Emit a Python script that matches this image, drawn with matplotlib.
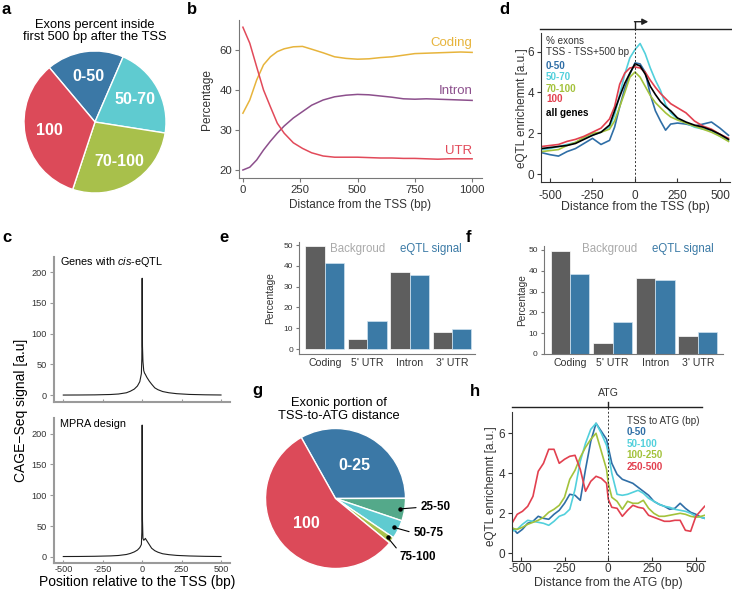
import numpy as np
import matplotlib
matplotlib.use("Agg")
import matplotlib.pyplot as plt

plt.rcParams['font.family'] = ['Liberation Sans', 'DejaVu Sans']
plt.rcParams['axes.unicode_minus'] = False
plt.rcParams['mathtext.fontset'] = 'custom'
plt.rcParams['mathtext.rm'] = 'Liberation Sans'
plt.rcParams['mathtext.it'] = 'Liberation Sans:italic'

W, H = 732, 591

# ---------------- data ----------------
# a: exons percent inside first 500 bp
a_labels = ["0-50", "50-70", "70-100", "100"]
a_values = [17.6, 21.0, 27.6, 33.8]

# b: genomic composition vs distance from TSS (axis units)
b_x = [0, 30, 60, 90, 120, 150, 180, 220, 260, 300, 350, 400, 450, 500,
       550, 600, 650, 700, 750, 800, 850, 900, 950, 1000]
b_coding = [34.2, 37.5, 42.5, 46.3, 48.3, 49.6, 50.3, 50.8, 50.9, 50.2, 49.3, 48.3,
            47.9, 47.7, 47.8, 48.1, 48.3, 48.7, 49.1, 49.2, 49.3, 49.4, 49.5, 49.4]
b_intron = [20.0, 20.7, 22.5, 25.0, 27.2, 29.2, 31.0, 33.0, 34.6, 36.2, 37.5, 38.3,
            38.7, 38.9, 38.8, 38.5, 38.2, 37.8, 37.7, 37.8, 37.7, 37.6, 37.5, 37.4]
b_utr = [55.7, 51.7, 45.8, 40.0, 35.8, 31.7, 29.2, 26.8, 25.4, 24.3, 23.5, 23.2,
         23.2, 23.2, 23.1, 23.0, 23.0, 22.9, 22.9, 22.8, 22.7, 22.8, 22.8, 22.8]
b_yticks = [20, 30, 40, 50]
b_yticklabels = ["20", "30", "40", "60"]

# c: CAGE-seq signal
c_x = [-500, -400, -300, -200, -150, -100, -75, -50, -30, -15, -5, -2, 0, 2, 5, 10,
       15, 20, 30, 45, 60, 80, 100, 130, 170, 220, 300, 400, 500]
c_eqtl = [0.3, 0.4, 0.6, 1.2, 2, 4, 6.5, 10, 15, 22, 35, 60, 190, 80, 55, 40,
          36, 34, 29, 23, 18, 12, 9, 6, 4, 2.5, 1.3, 0.7, 0.4]
c_mpra = [0.5, 0.6, 0.9, 1.5, 2.2, 3.8, 5.5, 8, 11, 15, 20, 40, 214, 60, 30, 27,
          28, 30, 26, 20, 14, 10, 7.5, 5, 3.5, 2.3, 1.4, 0.8, 0.5]

# d: eQTL enrichment around TSS by exon percentage
d_x = [-550, -500, -450, -400, -350, -300, -250, -200, -150, -120, -90, -60, -30, 0,
       30, 60, 90, 120, 150, 180, 210, 250, 300, 350, 400, 450, 500, 550]
d_0_50 = [1.05, 0.95, 0.88, 1.1, 1.25, 1.5, 1.75, 1.45, 1.65, 2.3, 3.3, 4.2, 4.9, 5.45,
          5.4, 5.0, 3.9, 3.1, 2.6, 2.15, 2.45, 2.5, 2.45, 2.35, 2.45, 2.55, 2.25, 1.9]
d_50_70 = [1.2, 1.25, 1.35, 1.45, 1.55, 1.75, 1.9, 2.05, 2.3, 2.9, 3.9, 4.9, 5.7, 6.1,
           6.4, 5.9, 5.2, 4.6, 4.1, 3.4, 3.0, 2.7, 2.5, 2.3, 2.2, 2.15, 1.85, 1.65]
d_70_100 = [1.1, 1.15, 1.2, 1.4, 1.55, 1.8, 2.0, 2.05, 2.2, 2.6, 3.3, 4.0, 4.75, 5.0,
            4.75, 4.3, 3.85, 3.5, 3.25, 3.0, 2.8, 2.65, 2.5, 2.35, 2.2, 2.05, 1.85, 1.6]
d_100 = [1.35, 1.4, 1.45, 1.6, 1.7, 1.85, 2.05, 2.25, 2.7, 3.3, 4.4, 4.95, 5.2, 5.25,
         5.2, 5.0, 4.6, 4.25, 3.95, 3.7, 3.45, 3.25, 3.0, 2.6, 2.35, 2.2, 1.95, 1.75]
d_all = [1.25, 1.3, 1.35, 1.4, 1.5, 1.7, 1.9, 2.05, 2.4, 3.1, 3.8, 4.45, 4.95, 5.4,
         5.3, 4.9, 4.3, 3.9, 3.55, 3.3, 3.1, 2.75, 2.55, 2.4, 2.3, 2.15, 1.95, 1.7]

# e, f: bar charts
regions = ["Coding", "5' UTR", "Intron", "3' UTR"]
e_background = [49.5, 4.8, 36.9, 8.2]
e_signal = [41.5, 13.5, 35.6, 9.5]
f_background = [49.5, 5.1, 36.7, 8.5]
f_signal = [38.3, 15.5, 35.4, 10.6]

# g: exonic portion of TSS-to-ATG distance
g_labels = ["0-25", "25-50", "50-75", "75-100", "100"]
g_values = [33.1, 5.2, 4.3, 1.5, 55.9]

# h: eQTL enrichment around ATG by TSS-to-ATG distance
h_x = [-550, -520, -490, -460, -430, -400, -370, -340, -310, -280, -250, -220, -190,
       -160, -130, -100, -70, -40, -10, 0, 20, 50, 80, 110, 140, 170, 200, 230, 260,
       290, 320, 350, 380, 410, 440, 470, 500, 530, 550]
h_0_50 = [1.3, 1.0, 1.2, 1.5, 1.6, 1.85, 1.75, 1.7, 1.95, 2.15, 2.5, 2.95, 2.9, 2.65,
          4.2, 5.6, 6.5, 6.1, 5.7, 5.3, 4.5, 3.95, 3.7, 3.6, 3.5, 3.3, 3.1, 2.9, 2.6,
          2.45, 2.35, 2.2, 2.25, 2.5, 2.25, 2.05, 1.95, 1.8, 1.75]
h_50_100 = [1.1, 1.2, 1.45, 1.65, 1.6, 1.55, 1.5, 1.4, 1.6, 1.85, 1.95, 2.2, 3.2, 4.6,
            5.5, 6.2, 6.5, 6.0, 5.4, 5.0, 4.0, 2.95, 2.9, 2.95, 3.05, 3.15, 3.0, 2.75,
            2.6, 2.45, 2.35, 2.3, 2.2, 2.15, 2.1, 2.0, 1.85, 1.8, 1.75]
h_100_250 = [1.25, 1.2, 1.3, 1.45, 1.55, 1.65, 1.8, 2.05, 2.2, 2.4, 2.8, 3.7, 4.15,
             4.8, 5.3, 5.7, 6.0, 5.1, 4.2, 3.5, 2.8, 2.6, 2.2, 2.6, 2.5, 2.5, 2.65,
             2.25, 2.0, 1.85, 1.85, 1.9, 1.95, 2.0, 1.95, 1.85, 1.8, 1.85, 1.9]
h_250_500 = [1.5, 1.95, 2.1, 2.35, 2.85, 4.1, 4.5, 5.2, 5.2, 4.5, 4.7, 4.85, 4.9, 4.2,
             3.1, 3.6, 3.85, 3.75, 3.5, 2.7, 2.3, 2.25, 1.85, 2.15, 2.4, 2.3, 2.25, 1.9,
             1.8, 1.7, 1.6, 1.6, 1.65, 1.65, 1.15, 1.1, 1.85, 2.15, 2.35]

# ---------------- style ----------------
PIE_BLUE, PIE_CYAN, PIE_GREEN, PIE_RED, PIE_TEAL = '#3b78a6', '#5fcbd0', '#a8c04b', '#dc4a59', '#54a98a'
L_BLUE, L_CYAN, L_GREEN, L_RED = '#2f6ea6', '#52d0dc', '#a3c23b', '#e2404f'
BAR_GRAY, BAR_BLUE = '#5e5e5e', '#3b7aa6'
TXT = '#333333'

fig = plt.figure(figsize=(W / 100, H / 100), dpi=100)


def px_axes(l, t, r, b):
    return fig.add_axes([l / W, 1 - b / H, (r - l) / W, (b - t) / H])


def ftext(x, y, s, **kw):
    fig.text(x / W, 1 - y / H, s, **kw)


def clean(ax, color='#777777', lw=0.8, size=7.3):
    for s in ['top', 'right']:
        ax.spines[s].set_visible(False)
    for s in ['left', 'bottom']:
        ax.spines[s].set_color(color)
        ax.spines[s].set_linewidth(lw)
    ax.tick_params(colors=color, labelcolor=TXT, labelsize=size, length=3, width=0.8, pad=2)


# panel letters
for letter, x, y in [('a', 6, 9), ('b', 192, 9), ('d', 504, 9), ('c', 7, 238),
                     ('e', 224, 238), ('f', 468, 238), ('g', 257, 391), ('h', 475, 391)]:
    ftext(x, y, letter, fontsize=12, fontweight='bold', ha='center', va='center')

# ---- a ----
cx, cy, r = 95, 122, 71
ax = px_axes(cx - 1.25 * r, cy - 1.25 * r, cx + 1.25 * r, cy + 1.25 * r)
wedges, texts = ax.pie(a_values, labels=a_labels, colors=[PIE_BLUE, PIE_CYAN, PIE_GREEN, PIE_RED],
                       startangle=130, counterclock=False, labeldistance=0.65,
                       wedgeprops=dict(edgecolor='white', linewidth=1),
                       textprops=dict(color='white', fontsize=11.5, fontweight='bold'))
for t in texts:
    t.set_ha('center')
    t.set_va('center')
ax.set_xlim(-1.25, 1.25)
ax.set_ylim(-1.25, 1.25)
ftext(95, 31, "Exons percent inside\nfirst 500 bp after the TSS", fontsize=9.3,
      ha='center', va='center', linespacing=1.1)

# ---- b ----
ax = px_axes(239, 20, 482, 178)
ax.plot(b_x, b_coding, color='#e7b43c', lw=1.1)
ax.plot(b_x, b_intron, color='#8c4f8c', lw=1.1)
ax.plot(b_x, b_utr, color='#e24a5a', lw=1.1)
ax.set_xlim(-17, 1043)
ax.set_ylim(18, 57.5)
ax.set_xticks([0, 250, 500, 750, 1000])
ax.set_yticks(b_yticks)
ax.set_yticklabels(b_yticklabels)
clean(ax, size=8.2)
ax.text(1000, 51.8, "Coding", color='#e7b43c', fontsize=9.5, ha='right', va='center')
ax.text(1000, 39.8, "Intron", color='#8c4f8c', fontsize=9.5, ha='right', va='center')
ax.text(1000, 24.8, "UTR", color='#e24a5a', fontsize=9.5, ha='right', va='center')
ax.set_ylabel("Percentage", fontsize=8.6, color=TXT)
ax.yaxis.set_label_coords(-0.108, 0.5)
ax.set_xlabel("Distance from the TSS (bp)", fontsize=8.5, color=TXT, labelpad=3)

# ---- c ----
for (t, b), yvals, title, last in [((256.7, 401.7), c_eqtl, r"Genes with $\it{cis}$-eQTL", False),
                                   ((418.3, 563.3), c_mpra, "MPRA design", True)]:
    ax = px_axes(54, t, 230, b)
    ax.plot(c_x, yvals, color='#1e1e1e', lw=0.8)
    ax.set_xlim(-559, 557)
    ax.set_ylim(-10.5, 225)
    ax.set_xticks([-500, -250, 0, 250, 500])
    ax.set_yticks([0, 50, 100, 150, 200])
    clean(ax, color='#9a9a9a', lw=1.5, size=6.6)
    ax.tick_params(axis='x', direction='in', length=2.5, pad=1.5)
    if not last:
        ax.set_xticklabels([])
    ax.text(0.034, 0.963, title, transform=ax.transAxes, fontsize=7.8, ha='left', va='center')
ftext(21, 410, "CAGE\u2212Seq signal [a.u]", fontsize=10, rotation=90, ha='center', va='center')
ftext(137, 582, "Position relative to the TSS (bp)", fontsize=10, ha='center', va='center')

# ---- d ----
ax = px_axes(541, 33.3, 730, 182)
for yv, c in [(d_0_50, L_BLUE), (d_50_70, L_CYAN), (d_70_100, L_GREEN), (d_100, L_RED), (d_all, 'black')]:
    ax.plot(d_x, yv, color=c, lw=1.2)
ax.set_xlim(-553, 559)
ax.set_ylim(-0.39, 6.9)
ax.set_xticks([-500, -250, 0, 250, 500])
ax.set_yticks([0, 2, 4, 6])
clean(ax, color='#333333', size=8.5)
ax.tick_params(axis='x', direction='in', pad=5.5)
tr = ax.get_xaxis_transform()
ax.plot([0, 0], [0, 1.027], transform=tr, clip_on=False, color='#333333', lw=0.7, ls=(0, (2, 2)))
ax.plot([-560, 575], [1.027, 1.027], transform=tr, clip_on=False, color='#222222', lw=1)
ax.plot([0, 0], [1.027, 1.078], transform=tr, clip_on=False, color='#222222', lw=1)
ax.annotate('', xy=(78, 1.078), xytext=(-3, 1.078), xycoords=tr, textcoords=tr,
            arrowprops=dict(arrowstyle='-|>,head_length=0.35,head_width=0.18', color='#222222', lw=1,
                            shrinkA=0, shrinkB=0))
ax.set_ylabel("eQTL enrichemnt [a.u.]", fontsize=8.5, color=TXT)
ax.yaxis.set_label_coords(-0.069, 0.5)
ax.set_xlabel("Distance from the TSS (bp)", fontsize=8.8, color=TXT)
ax.xaxis.set_label_coords(0.5, -0.13)
for y, s, c, w in [(40.7, "% exons", TXT, 'normal'), (52.3, "TSS - TSS+500 bp", TXT, 'normal'),
                   (65.7, "0-50", L_BLUE, 'bold'), (77.3, "50-70", L_CYAN, 'bold'),
                   (89, "70-100", L_GREEN, 'bold'), (99.5, "100", L_RED, 'bold'),
                   (113.3, "all genes", 'black', 'bold')]:
    ftext(546, y, s, color=c, fontweight=w, fontsize=7.1, ha='left', va='center')

# ---- e, f ----
xpos = np.arange(len(regions))
bw = 0.455
for box, ylim, xlim, bg, sig, lab_x, lab_px in [
        ((299.3, 241.7, 475, 354), (-2.4, 51.6), (-0.6, 3.54), e_background, e_signal, -0.138, (330, 400)),
        ((544, 246, 723, 354), (0, 51.9), (-0.61, 3.59), f_background, f_signal, -0.095, (582, 652))]:
    ax = px_axes(*box)
    ax.bar(xpos - bw / 2, bg, width=bw, color=BAR_GRAY, edgecolor='white', linewidth=0.5)
    ax.bar(xpos + bw / 2, sig, width=bw, color=BAR_BLUE, edgecolor='#cfe2ef', linewidth=0.5)
    ax.set_xlim(*xlim)
    ax.set_ylim(*ylim)
    ax.set_yticks([0, 10, 20, 30, 40, 50])
    ax.set_xticks(xpos)
    ax.set_xticklabels(regions)
    clean(ax, size=6)
    ax.tick_params(axis='x', length=0, labelsize=7.6, pad=3)
    ax.tick_params(axis='y', length=2.5)
    ax.set_ylabel("Percentage", fontsize=7.3, color=TXT)
    ax.yaxis.set_label_coords(lab_x, 0.5)
    ftext(lab_px[0], 249, "Backgroud", color='#a9a9a9', fontsize=8.3, ha='left', va='center')
    ftext(lab_px[1], 249, "eQTL signal", color=BAR_BLUE, fontsize=8.3, ha='left', va='center')

# ---- g ----
cx, cy, r = 335.5, 498.5, 70
ax = px_axes(cx - 1.25 * r, cy - 1.25 * r, cx + 1.25 * r, cy + 1.25 * r)
shown = [g_labels[0], '', '', '', g_labels[4]]
wedges, texts = ax.pie(g_values, labels=shown, colors=[PIE_BLUE, PIE_TEAL, PIE_CYAN, PIE_GREEN, PIE_RED],
                       startangle=119.3, counterclock=False, labeldistance=0.55,
                       wedgeprops=dict(edgecolor='white', linewidth=1),
                       textprops=dict(color='white', fontsize=11.5, fontweight='bold'))
for t in texts:
    t.set_ha('center')
    t.set_va('center')
ax.set_xlim(-1.25, 1.25)
ax.set_ylim(-1.25, 1.25)
for lab, w, txy, rel in zip(g_labels[1:4], wedges[1:4], [(1.21, -0.126), (1.11, -0.49), (0.92, -0.83)],
                            [(0, 0.5), (0, 0.5), (0, 0.85)]):
    ang = np.deg2rad((w.theta1 + w.theta2) / 2)
    p = (0.93 * np.cos(ang), 0.93 * np.sin(ang))
    ax.annotate(lab, xy=p, xytext=txy, ha='left', va='center', fontsize=8.4, fontweight='bold',
                arrowprops=dict(arrowstyle='-', color='black', lw=0.8, shrinkA=1, shrinkB=0, relpos=rel),
                annotation_clip=False)
    ax.plot(p[0], p[1], 'o', ms=2.2, color='black', clip_on=False)
ftext(339, 409.5, "Exonic portion of\nTSS-to-ATG distance", fontsize=9.3, ha='center', va='center',
      linespacing=1.15)

# ---- h ----
ax = px_axes(512.3, 411.7, 705, 560.7)
for yv, c in [(h_0_50, L_BLUE), (h_50_100, L_CYAN), (h_100_250, L_GREEN), (h_250_500, L_RED)]:
    ax.plot(h_x, yv, color=c, lw=1.2)
ax.set_xlim(-548, 552)
ax.set_ylim(-0.37, 7.08)
ax.set_xticks([-500, -250, 0, 250, 500])
ax.set_yticks([0, 2, 4, 6])
clean(ax, color='#333333', size=8.5)
ax.tick_params(axis='x', direction='in', pad=2)
tr = ax.get_xaxis_transform()
ax.plot([0, 0], [0, 1.0336], transform=tr, clip_on=False, color='#333333', lw=0.7, ls=(0, (2, 2)))
ax.plot([-552, 534], [1.0336, 1.0336], transform=tr, clip_on=False, color='#222222', lw=1)
ax.plot([0, 0], [1.0336, 1.067], transform=tr, clip_on=False, color='#222222', lw=1)
ax.text(0, 1.125, "ATG", transform=tr, fontsize=7.6, ha='center', va='center', color=TXT)
ax.set_ylabel("eQTL enrichemnt [a.u.]", fontsize=8.5, color=TXT)
ax.yaxis.set_label_coords(-0.08, 0.5)
ax.set_xlabel("Distance from the ATG (bp)", fontsize=8.8, color=TXT)
ax.xaxis.set_label_coords(0.5, -0.112)
for y, s, c, w in [(420.7, "TSS to ATG (bp)", TXT, 'normal'), (432.3, "0-50", L_BLUE, 'bold'),
                   (443.8, "50-100", L_CYAN, 'bold'), (455.3, "100-250", L_GREEN, 'bold'),
                   (466.8, "250-500", L_RED, 'bold')]:
    ftext(626.7, y, s, color=c, fontweight=w, fontsize=7.1, ha='left', va='center')

fig.savefig("out.png", dpi=100)
